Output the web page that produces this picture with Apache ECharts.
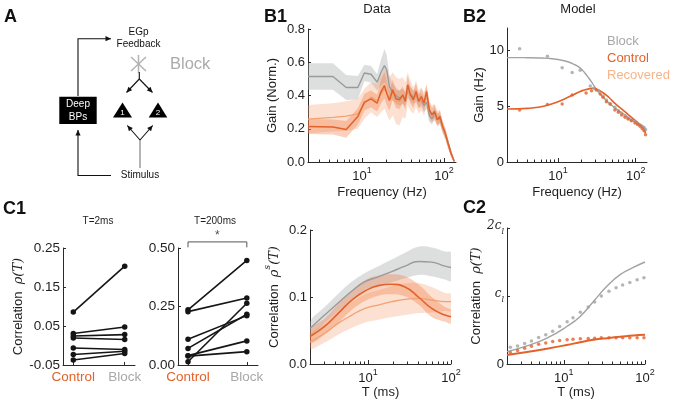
<!DOCTYPE html>
<html><head><meta charset="utf-8">
<script src="https://cdn.jsdelivr.net/npm/echarts@6/dist/echarts.min.js"></script>
<style>html,body{margin:0;padding:0;background:#fff}#c{width:674px;height:402px}</style>
</head><body><div id="c"></div>
<script>
// ================= DATA =================
// B1 (Data): gain vs frequency
const b1Freq = [2.2,4.43,6.43,8.91,10.7,12.9,15.3,17.1,18.8,20,21.6,23.7,26,28.6,31.4,33.8,36.1,38.9,42.3,45.6,49.1,52.9,57,61.4,66.2,71.3,76.8,82.8,89.2,96.1,103.5,111.6,121.3,133];
const b1Block = [0.514,0.514,0.448,0.448,0.535,0.528,0.48,0.54,0.58,0.555,0.454,0.42,0.40,0.385,0.394,0.38,0.43,0.41,0.39,0.40,0.37,0.37,0.34,0.36,0.28,0.26,0.29,0.26,0.26,0.21,0.17,0.12,0.06,0.005];
const b1BlockErr = [0.08,0.08,0.075,0.07,0.05,0.05,0.05,0.08,0.1,0.09,0.07,0.05,0.05,0.045,0.045,0.045,0.045,0.045,0.04,0.04,0.04,0.04,0.04,0.04,0.04,0.035,0.035,0.035,0.03,0.03,0.025,0.02,0.015,0.005];
const b1Control = [0.214,0.21,0.196,0.274,0.36,0.38,0.354,0.424,0.46,0.414,0.37,0.434,0.38,0.374,0.404,0.364,0.464,0.404,0.374,0.424,0.364,0.394,0.354,0.424,0.314,0.284,0.304,0.254,0.274,0.214,0.174,0.114,0.054,0.004];
const b1ControlErr = [0.045,0.045,0.05,0.05,0.05,0.05,0.05,0.07,0.08,0.07,0.06,0.06,0.055,0.055,0.05,0.05,0.055,0.05,0.05,0.05,0.045,0.045,0.045,0.045,0.04,0.04,0.04,0.035,0.035,0.03,0.03,0.025,0.015,0.005];
const b1Recovered = [0.258,0.268,0.276,0.29,0.35,0.39,0.37,0.41,0.44,0.42,0.38,0.41,0.37,0.36,0.39,0.37,0.44,0.40,0.37,0.41,0.36,0.38,0.35,0.40,0.31,0.29,0.30,0.26,0.27,0.21,0.17,0.11,0.05,0.003];
const b1RecoveredErr = [0.085,0.085,0.09,0.09,0.09,0.09,0.1,0.11,0.12,0.13,0.13,0.13,0.14,0.14,0.12,0.11,0.1,0.09,0.08,0.08,0.07,0.07,0.07,0.06,0.06,0.05,0.05,0.05,0.045,0.04,0.035,0.03,0.02,0.005];

// B2 (Model): gain (Hz) vs frequency
const b2BlockFitFreq = [2.2,3,4,5.5,7.5,10,13,16,19,22,25,28,32,38,45,55,70,90,110,134];
const b2BlockFit = [9.35,9.35,9.34,9.32,9.28,9.18,9.0,8.75,8.45,8.0,7.5,7.0,6.4,5.8,5.3,4.8,4.3,3.75,3.4,3.1];
const b2ControlFitFreq = [2.2,3,4,5.5,7.5,10,13,16,19,22,25,28,32,38,45,55,70,90,110,125,134];
const b2ControlFit = [4.75,4.76,4.8,4.9,5.1,5.4,5.75,6.05,6.3,6.45,6.55,6.6,6.5,6.2,5.8,5.2,4.6,3.95,3.45,3.05,2.55];
const b2BlockPtsFreq = [3.2,7.3,11.3,15.2,19.3,26,29,33,38,42,47,54,60,66,73,80,88,98,106,114,121,128,134];
const b2BlockPts = [10.15,9.47,8.43,8.01,8.22,6.8,6.6,6.4,5.9,5.55,5.2,4.9,4.6,4.36,4.15,3.92,3.75,3.62,3.45,3.32,3.2,3.03,2.9];
const b2ControlPtsFreq = [3.2,7.3,11.3,15.2,23,27,31,35,38,42,47,54,60,66,73,80,88,98,106,114,121,128,134];
const b2ControlPts = [4.66,5.15,5.2,6.0,6.17,6.37,6.45,6.1,5.8,5.4,5.2,4.66,4.45,4.2,4.0,3.85,3.7,3.5,3.35,3.2,3.0,2.8,2.45];

// C1: paired correlations (Control -> Block)
const c1Cats = ['Control','Block'];
const c1ShortControl = [0.0858,0.0306,0.0244,0.0193,-0.0063,-0.0232,-0.037];
const c1ShortBlock   = [0.2034,0.0474,0.028,0.0152,-0.0104,-0.0147,-0.0206];
const c1LongControl  = [0.236,0.228,0.11,0.071,0.04,0.038,0.014];
const c1LongBlock    = [0.447,0.286,0.211,0.217,0.103,0.057,0.264];

// C (middle): rho^s(T)
const cT = [2,3,4.4,6.4,9.2,13.3,19.3,27.9,40.4,58.5,84.7,100];
const cBlock     = [0.053,0.073,0.0915,0.109,0.123,0.130,0.138,0.146,0.153,0.152,0.146,0.144];
const cBlockHi   = [0.063,0.085,0.105,0.123,0.136,0.146,0.156,0.166,0.175,0.174,0.168,0.166];
const cBlockLo   = [0.043,0.061,0.079,0.096,0.111,0.117,0.122,0.128,0.133,0.131,0.126,0.124];
const cControl   = [0.041,0.056,0.076,0.0955,0.109,0.117,0.119,0.115,0.100,0.083,0.073,0.0706];
const cControlHi = [0.051,0.068,0.090,0.110,0.125,0.132,0.134,0.131,0.119,0.100,0.085,0.080];
const cControlLo = [0.031,0.044,0.062,0.081,0.094,0.102,0.104,0.101,0.089,0.070,0.063,0.061];
const cRecov     = [0.033,0.046,0.061,0.073,0.083,0.088,0.093,0.0966,0.098,0.0955,0.093,0.093];
const cRecovHi   = [0.043,0.060,0.078,0.092,0.104,0.110,0.116,0.120,0.121,0.115,0.106,0.104];
const cRecovLo   = [0.023,0.032,0.044,0.054,0.062,0.066,0.070,0.073,0.076,0.077,0.079,0.080];

// C2 (model): rho(T) in units of c_l
const c2FitT = [2,3.52,6.2,10.9,15.9,23.2,33.9,49.4,71.8,100];
const c2BlockFit = [0.182,0.266,0.38,0.551,0.70,0.92,1.142,1.315,1.42,1.50];
const c2ControlFit = [0.133,0.175,0.225,0.28,0.32,0.355,0.38,0.40,0.42,0.43];
const c2PtsT = [2.2,2.7,3.3,4,4.9,6,7.3,8.9,11,13,16,20,24,29,36,44,53,65,80,97];
const c2BlockPts = [0.245,0.265,0.30,0.34,0.39,0.43,0.48,0.55,0.62,0.68,0.76,0.84,0.91,1.0,1.07,1.12,1.16,1.20,1.24,1.27];
const c2ControlPts = [0.17,0.20,0.23,0.26,0.29,0.31,0.33,0.345,0.355,0.365,0.37,0.375,0.38,0.385,0.385,0.385,0.385,0.385,0.385,0.385];

// Tick definitions
const freqRange = [2.2, 140];
const tRange = [2, 100];
const logMajors = [10, 100];
const logMinorsFreq = [3,4,5,6,7,8,9,20,30,40,50,60,70,80,90];
const logMinorsT = [3,4,5,6,7,8,9,20,30,40,50,60,70,80,90];
const b1YTicks = [0,0.2,0.4,0.6,0.8];
const b2YTicks = [0,5,10];
const c1aYTicks = [-0.05,0.05,0.15,0.25];
const c1bYTicks = [0,0.25,0.5];
const cYTicks = [0,0.1,0.2];
const c2YTicks = [0,1,2];

// ================= STYLE =================
const lg = v => Math.log10(v);
const AX = '#2a2a2a', TXT = '#1e1e1e';
const ORANGE = '#e2622b', LIGHT = '#f2a272', GRAY = '#9a9a9a';
const SANS = 'Liberation Sans';
const SERIF = 'DejaVu Serif';

const supRich = {
  b:{fontSize:13, fontFamily:SANS, color:TXT, lineHeight:17, verticalAlign:'bottom'},
  s:{fontSize:9, fontFamily:SANS, color:TXT, lineHeight:17, verticalAlign:'top'}
};
const nameRich = {
  t:{fontSize:13, fontFamily:SANS, color:TXT, lineHeight:18, verticalAlign:'bottom'},
  m:{fontSize:13, fontFamily:SERIF, fontStyle:'italic', color:TXT, lineHeight:18, verticalAlign:'bottom'},
  s:{fontSize:9, fontFamily:SERIF, fontStyle:'italic', color:TXT, lineHeight:18, verticalAlign:'top'}
};

const grids = [
  {left:308, top:29, width:148, height:133},   // B1
  {left:507, top:28, width:140, height:134},   // B2
  {left:63, top:248, width:72, height:117},    // C1 T=2ms
  {left:178, top:248, width:80, height:117},   // C1 T=200ms
  {left:310, top:230, width:141, height:134},  // C middle
  {left:507, top:228, width:138, height:136}   // C2
];

function logX(gi, range, minors, name, nameGap) {
  const base = {type:'value', gridIndex:gi, position:'bottom', min:lg(range[0]), max:lg(range[1]),
    splitLine:{show:false}, silent:true};
  return [
    Object.assign({}, base, {
      axisLine:{show:true, onZero:false, lineStyle:{color:AX, width:1}},
      axisTick:{show:true, inside:true, length:4, customValues:logMajors.map(lg), lineStyle:{color:AX}},
      axisLabel:{show:true, customValues:logMajors.map(lg), margin:4,
        formatter: v => '{b|10}{s|' + Math.round(v) + '}', rich:supRich},
      name, nameLocation:'middle', nameGap,
      nameTextStyle:{fontSize:13, color:TXT, fontFamily:SANS}
    }),
    Object.assign({}, base, {
      axisLine:{show:false, onZero:false},
      axisTick:{show:true, inside:true, length:2.5, customValues:minors.map(lg), lineStyle:{color:AX}},
      axisLabel:{show:false}
    })
  ];
}
function catX(gi, min, max) {
  return {type:'value', gridIndex:gi, position:'bottom', min, max, splitLine:{show:false}, silent:true,
    axisLine:{show:true, onZero:false, lineStyle:{color:AX, width:1}},
    axisTick:{show:true, inside:true, length:3, customValues:[0,1], lineStyle:{color:AX}},
    axisLabel:{show:true, customValues:[0,1], margin:5,
      formatter: v => (Math.round(v) === 0 ? '{c|' + c1Cats[0] + '}' : '{k|' + c1Cats[1] + '}'),
      rich:{c:{color:ORANGE, fontSize:13.5, fontFamily:SANS}, k:{color:'#a8a8a8', fontSize:13.5, fontFamily:SANS}}}
  };
}
function yAx(gi, min, max, ticks, fmt, name, gap, fs) {
  return {type:'value', gridIndex:gi, position:'left', min, max, splitLine:{show:false}, silent:true,
    axisLine:{show:true, onZero:false, lineStyle:{color:AX, width:1}},
    axisTick:{show:true, inside:true, length:3, customValues:ticks, lineStyle:{color:AX}},
    axisLabel:{show:true, customValues:ticks, formatter:fmt, margin:3, fontSize:fs||13, color:TXT, fontFamily:SANS,
      rich:{m:{fontFamily:SERIF, fontStyle:'italic', fontSize:12, color:TXT, lineHeight:16, verticalAlign:'top'},
            sb:{fontFamily:SERIF, fontStyle:'italic', fontSize:8, color:TXT, lineHeight:16, verticalAlign:'bottom'}}},
    name, nameLocation:'middle', nameGap:gap, nameRotate:90,
    nameTextStyle:{fontSize:13, color:TXT, fontFamily:SANS, rich:nameRich}
  };
}

const xAxes = [].concat(
  logX(0, freqRange, logMinorsFreq, 'Frequency (Hz)', 24),   // 0,1
  logX(1, freqRange, logMinorsFreq, 'Frequency (Hz)', 24),   // 2,3
  [catX(2, -0.2, 1.2)],                                     // 4
  [catX(3, -0.17, 1.19)],                                   // 5
  logX(4, tRange, logMinorsT, 'T (ms)', 19),                // 6,7
  logX(5, tRange, logMinorsT, 'T (ms)', 19)                 // 8,9
);
const yAxes = [
  yAx(0, 0, 0.8, b1YTicks, v => v.toFixed(1), 'Gain (Norm.)', 29),
  yAx(1, 0, 12, b2YTicks, v => String(Math.round(v)), 'Gain (Hz)', 20),
  yAx(2, -0.05, 0.25, c1aYTicks, v => v.toFixed(2), '{t|Correlation  }{m|ρ(T)}', 34, 13.5),
  yAx(3, 0, 0.5, c1bYTicks, v => v.toFixed(2), '', 30, 13.5),
  yAx(4, 0, 0.2, cYTicks, v => v.toFixed(1), '{t|Correlation  }{m|ρ}{s|s}{m|(T)}', 29),
  yAx(5, 0, 2, c2YTicks, v => { const r = Math.round(v); return r === 0 ? '0' : r === 1 ? '{m|c}{sb|l}' : '{m|2c}{sb|l}'; }, '{t|Correlation  }{m|ρ(T)}', 17)
];

// ================= SERIES HELPERS =================
function band(xi, yi, xs, lo, hi, color, z, smooth) {
  return {type:'custom', xAxisIndex:xi, yAxisIndex:yi, clip:true, z, silent:true,
    data: xs.map((x, i) => [lg(x), lo[i], hi[i]]),
    encode:{x:0, y:[1,2]},
    renderItem: (params, api) => {
      if (params.dataIndex !== 0) return null;
      const top = xs.map((x, i) => api.coord([lg(x), hi[i]]));
      const bot = xs.map((x, i) => api.coord([lg(x), lo[i]])).reverse();
      return {type:'polygon', shape:{points:top.concat(bot), smooth:smooth || 0}, style:{fill:color, stroke:null}};
    }
  };
}
function line(name, xi, yi, xs, ys, color, width, smooth, z) {
  return {name, type:'line', xAxisIndex:xi, yAxisIndex:yi, data: xs.map((x, i) => [lg(x), ys[i]]),
    symbol:'none', smooth: smooth || false, lineStyle:{color, width}, itemStyle:{color}, z, silent:true, clip:true};
}
function dots(name, xi, yi, xs, ys, color, size, z) {
  return {name, type:'scatter', xAxisIndex:xi, yAxisIndex:yi, data: xs.map((x, i) => [lg(x), ys[i]]),
    symbol:'circle', symbolSize:size, itemStyle:{color}, z, silent:true};
}
const plusErr = (a, e) => a.map((v, i) => v + e[i]);
const minusErr = (a, e) => a.map((v, i) => v - e[i]);

const series = [];
// B1
series.push(band(0, 0, b1Freq, minusErr(b1Block, b1BlockErr), plusErr(b1Block, b1BlockErr), 'rgba(165,170,170,0.38)', 1));
series.push(band(0, 0, b1Freq, minusErr(b1Recovered, b1RecoveredErr), plusErr(b1Recovered, b1RecoveredErr), 'rgba(246,160,112,0.32)', 2));
series.push(band(0, 0, b1Freq, minusErr(b1Control, b1ControlErr), plusErr(b1Control, b1ControlErr), 'rgba(238,112,52,0.32)', 3));
series.push(line('Block', 0, 0, b1Freq, b1Block, GRAY, 1.4, false, 5));
series.push(line('Recovered', 0, 0, b1Freq, b1Recovered, LIGHT, 1.3, false, 6));
series.push(line('Control', 0, 0, b1Freq, b1Control, ORANGE, 1.5, false, 7));
// B2
series.push(line('Block', 2, 1, b2BlockFitFreq, b2BlockFit, '#a3a3a3', 1.4, true, 5));
series.push(line('Control', 2, 1, b2ControlFitFreq, b2ControlFit, ORANGE, 1.6, true, 6));
series.push(dots('Block', 2, 1, b2BlockPtsFreq, b2BlockPts, '#a3a3a3', 3.5, 7));
series.push(dots('Control', 2, 1, b2ControlPtsFreq, b2ControlPts, ORANGE, 3.5, 8));
// C1
function pairs(xi, yi, ctrl, blk) {
  ctrl.forEach((c, i) => {
    series.push({type:'line', xAxisIndex:xi, yAxisIndex:yi, data:[[0, c], [1, blk[i]]], symbol:'circle', symbolSize:5.5,
      lineStyle:{color:'#151515', width:1.6}, itemStyle:{color:'#151515'}, silent:true, z:5});
  });
}
pairs(4, 2, c1ShortControl, c1ShortBlock);
pairs(5, 3, c1LongControl, c1LongBlock);
series.push({type:'line', xAxisIndex:5, yAxisIndex:3, data:[[0,0.503],[0,0.526],[1,0.526],[1,0.503]], symbol:'none',
  clip:false, lineStyle:{color:'#555', width:1}, silent:true});
series.push({type:'scatter', xAxisIndex:5, yAxisIndex:3, data:[[0.5,0.526]], symbolSize:0, clip:false, silent:true,
  label:{show:true, formatter:'*', position:'top', distance:0, fontSize:12, color:'#222', fontFamily:SANS}});
// C middle
series.push(band(6, 4, cT, cBlockLo, cBlockHi, 'rgba(165,170,170,0.38)', 1, 0.4));
series.push(band(6, 4, cT, cRecovLo, cRecovHi, 'rgba(246,160,112,0.32)', 2, 0.4));
series.push(band(6, 4, cT, cControlLo, cControlHi, 'rgba(238,112,52,0.32)', 3, 0.4));
series.push(line('Block', 6, 4, cT, cBlock, GRAY, 1.4, true, 5));
series.push(line('Recovered', 6, 4, cT, cRecov, LIGHT, 1.3, true, 6));
series.push(line('Control', 6, 4, cT, cControl, ORANGE, 1.6, true, 7));
// C2
series.push(line('Block', 8, 5, c2FitT, c2BlockFit, '#a3a3a3', 1.4, true, 5));
series.push(line('Control', 8, 5, c2FitT, c2ControlFit, ORANGE, 2, true, 6));
series.push(dots('Block', 8, 5, c2PtsT, c2BlockPts, '#a3a3a3', 3.5, 7));
series.push(dots('Control', 8, 5, c2PtsT, c2ControlPts, ORANGE, 3.5, 8));

// ================= ANNOTATIONS / DIAGRAM =================
const G = [];
function txt(x, y, text, font, fill, align, valign) {
  G.push({type:'text', x, y, silent:true, z:100,
    style:{text, font, fill, textAlign:align || 'left', textVerticalAlign:valign || 'middle',
      align:align || 'left', verticalAlign:valign || 'middle'}});
}
function seg(x1, y1, x2, y2, color, w) {
  G.push({type:'line', silent:true, z:100, shape:{x1, y1, x2, y2}, style:{stroke:color, lineWidth:w || 1.1}});
}
function arrow(pts, color) {
  const c = color || '#111';
  G.push({type:'polyline', silent:true, z:100, shape:{points:pts}, style:{stroke:c, lineWidth:1.1, fill:null}});
  const [x2, y2] = pts[pts.length - 1], [x1, y1] = pts[pts.length - 2];
  const a = Math.atan2(y2 - y1, x2 - x1), L = 5.5, W = 2.6;
  const bx = x2 - L * Math.cos(a), by = y2 - L * Math.sin(a);
  G.push({type:'polygon', silent:true, z:101, shape:{points:[[x2, y2], [bx + W * Math.sin(a), by - W * Math.cos(a)], [bx - W * Math.sin(a), by + W * Math.cos(a)]]}, style:{fill:c}});
}
const BOLD = 'bold 18px "Liberation Sans"';
txt(4, 17, 'A', BOLD, '#111');
txt(264, 17, 'B1', BOLD, '#111');
txt(463, 17, 'B2', BOLD, '#111');
txt(3, 209, 'C1', BOLD, '#111');
txt(463, 208, 'C2', BOLD, '#111');
txt(377, 9, 'Data', '13px "Liberation Sans"', TXT, 'center');
txt(578, 9, 'Model', '13px "Liberation Sans"', TXT, 'center');
txt(98, 221, 'T=2ms', '10px "Liberation Sans"', TXT, 'center');
txt(215, 221, 'T=200ms', '10px "Liberation Sans"', TXT, 'center');
// B2 legend
txt(607, 41, 'Block', '13px "Liberation Sans"', '#a8a8a8');
txt(607, 58, 'Control', '13px "Liberation Sans"', ORANGE);
txt(607, 75, 'Recovered', '13px "Liberation Sans"', '#f5b58c');
// Panel A diagram
txt(138.5, 32.5, 'EGp', '10px "Liberation Sans"', '#111', 'center');
txt(138.5, 44, 'Feedback', '10px "Liberation Sans"', '#111', 'center');
seg(131, 57, 146, 71, '#b3b3b3', 1.5);
seg(146, 57, 131, 71, '#b3b3b3', 1.5);
seg(138.5, 55, 138.5, 73, '#b3b3b3', 1.5);
txt(170, 64, 'Block', '16.5px "Liberation Sans"', '#ababab');
seg(139.3, 72, 139.3, 79, '#111', 1.1);
arrow([[139.3, 79], [126.5, 92.5]]);
arrow([[139.3, 79], [152.5, 92.5]]);
G.push({type:'rect', silent:true, z:100, shape:{x:59.3, y:96.7, width:37.4, height:27.3}, style:{fill:'#000'}});
txt(78, 104.5, 'Deep', '10px "Liberation Sans"', '#fff', 'center');
txt(78, 117, 'BPs', '10px "Liberation Sans"', '#fff', 'center');
G.push({type:'polygon', silent:true, z:100, shape:{points:[[122.5,102.5],[113,117.5],[132,117.5]]}, style:{fill:'#000'}});
G.push({type:'polygon', silent:true, z:100, shape:{points:[[158,102.5],[148.7,117.5],[167.3,117.5]]}, style:{fill:'#000'}});
txt(122.5, 112.5, '1', '8px "Liberation Sans"', '#fff', 'center');
txt(158, 112.5, '2', '8px "Liberation Sans"', '#fff', 'center');
seg(140, 168, 140, 140, '#777', 1.1);
arrow([[140, 140], [127.3, 125.5]]);
arrow([[140, 140], [152.7, 125.5]]);
txt(140, 175.5, 'Stimulus', '10px "Liberation Sans"', '#111', 'center');
arrow([[111, 175.5], [78, 175.5], [78, 130]]);
arrow([[78, 96], [78, 38.7], [111, 38.7]]);

const chart = echarts.init(document.getElementById('c'), null, {renderer:'canvas'});
chart.setOption({
  animation:false,
  backgroundColor:'#fff',
  textStyle:{fontFamily:SANS},
  grid:grids,
  xAxis:xAxes,
  yAxis:yAxes,
  series,
  graphic:G
});
</script>
</body></html>
